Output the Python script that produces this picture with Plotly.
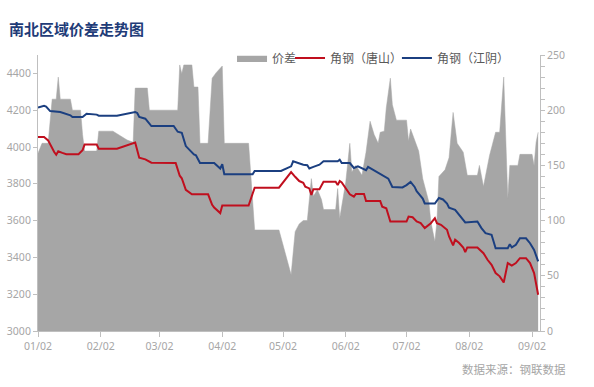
import plotly.graph_objects as go

# 价差 (right axis)
spread_dates = ["2024-01-02","2024-01-04","2024-01-07","2024-01-09","2024-01-11","2024-01-12","2024-01-13","2024-01-18",
"2024-01-19","2024-01-23","2024-01-24","2024-01-25","2024-01-31","2024-02-01","2024-02-08","2024-02-15","2024-02-18",
"2024-02-19","2024-02-25","2024-02-26","2024-03-11","2024-03-12","2024-03-13","2024-03-14","2024-03-18","2024-03-19",
"2024-03-21","2024-03-22","2024-03-26","2024-03-28","2024-03-30","2024-04-02","2024-04-03","2024-04-15","2024-04-18",
"2024-04-30","2024-05-06","2024-05-08","2024-05-10","2024-05-12","2024-05-14","2024-05-15","2024-05-16","2024-05-17",
"2024-05-19","2024-05-21","2024-05-22","2024-05-28","2024-05-29","2024-05-30","2024-06-02","2024-06-04","2024-06-05",
"2024-06-07","2024-06-10","2024-06-12","2024-06-14","2024-06-16","2024-06-18","2024-06-19","2024-06-21","2024-06-22",
"2024-06-24","2024-06-25","2024-06-27","2024-07-02","2024-07-03","2024-07-04","2024-07-06","2024-07-08","2024-07-10",
"2024-07-13","2024-07-14","2024-07-16","2024-07-17","2024-07-18","2024-07-21","2024-07-23","2024-07-25","2024-07-27",
"2024-07-30","2024-08-01","2024-08-06","2024-08-07","2024-08-09","2024-08-12","2024-08-15","2024-08-17","2024-08-19",
"2024-08-20","2024-08-21","2024-08-22","2024-08-26","2024-08-27","2024-09-02","2024-09-03","2024-09-04","2024-09-05"]
spread_vals = [161,170,170,210,210,230,210,210,
200,200,178,163,163,181,181,173,171,
220,220,200,200,241,233,241,241,221,
221,170,170,229,234,240,170,170,91.5,
91.5,51,90,97,100,100,117,138,122,
128,119,110,110,129,102,135,170,144,
150,141,162,190,178,170,180,181,202,
229,205,191,191,172,183,172,163,138,
117,99,81,99,140,146,157,198,170,
162,141,141,150,131,159,180,180,230,
175,120,150,150,160,160,150,171,180]

# 角钢（唐山）
ts_dates = ["2024-01-02","2024-01-05","2024-01-07","2024-01-09","2024-01-10","2024-01-11","2024-01-12","2024-01-14",
"2024-01-16","2024-01-22","2024-01-24","2024-01-25","2024-01-31","2024-02-01","2024-02-10","2024-02-19","2024-02-21",
"2024-02-24","2024-02-27","2024-03-10","2024-03-11","2024-03-12","2024-03-13","2024-03-15","2024-03-18","2024-03-26",
"2024-03-28","2024-03-29","2024-04-01","2024-04-02","2024-04-15","2024-04-18","2024-04-30","2024-05-06","2024-05-08",
"2024-05-10","2024-05-12","2024-05-13","2024-05-15","2024-05-16","2024-05-17","2024-05-20","2024-05-22","2024-05-28",
"2024-05-29","2024-05-30","2024-05-31","2024-06-02","2024-06-04","2024-06-06","2024-06-07","2024-06-11","2024-06-12",
"2024-06-19","2024-06-20","2024-06-22","2024-06-24","2024-07-02","2024-07-03","2024-07-05","2024-07-07","2024-07-09",
"2024-07-11","2024-07-14","2024-07-16","2024-07-17","2024-07-19","2024-07-22","2024-07-23","2024-07-25","2024-07-26",
"2024-07-28","2024-07-30","2024-07-31","2024-08-01","2024-08-06","2024-08-09","2024-08-11","2024-08-13","2024-08-15",
"2024-08-17","2024-08-19","2024-08-21","2024-08-23","2024-08-25","2024-08-27","2024-08-30","2024-09-01","2024-09-03",
"2024-09-05"]
ts_vals = [4054,4054,4036,3991,3973,3958,3977,3968,
3961,3961,3982,4013,4013,3991,3991,4024,3942,
3933,3915,3913,3875,3844,3830,3767,3743,3743,
3686,3671,3641,3682,3682,3779,3779,3864,3838,
3815,3806,3784,3775,3739,3771,3771,3811,3811,
3793,3815,3807,3775,3743,3730,3745,3745,3707,
3707,3676,3667,3595,3595,3622,3618,3595,3586,
3559,3586,3613,3586,3577,3550,3514,3465,3496,
3478,3454,3429,3454,3454,3423,3387,3360,3315,
3297,3264,3369,3356,3369,3396,3396,3369,3315,
3197]

# 角钢（江阴）
jy_dates = ["2024-01-02","2024-01-05","2024-01-06","2024-01-08","2024-01-13","2024-01-18","2024-01-19","2024-01-24",
"2024-01-26","2024-01-31","2024-02-01","2024-02-10","2024-02-19","2024-02-20","2024-02-21","2024-02-24","2024-02-27",
"2024-03-09","2024-03-11","2024-03-13","2024-03-15","2024-03-17","2024-03-19","2024-03-20","2024-03-22","2024-03-29",
"2024-03-31","2024-04-01","2024-04-02","2024-04-03","2024-04-17","2024-04-18","2024-05-01","2024-05-04","2024-05-06",
"2024-05-07","2024-05-10","2024-05-12","2024-05-14","2024-05-15","2024-05-17","2024-05-20","2024-05-22","2024-05-29",
"2024-05-30","2024-05-31","2024-06-04","2024-06-06","2024-06-08","2024-06-10","2024-06-12","2024-06-13","2024-06-16",
"2024-06-18","2024-06-21","2024-06-23","2024-06-25","2024-06-30","2024-07-02","2024-07-04","2024-07-06","2024-07-07",
"2024-07-08","2024-07-10","2024-07-11","2024-07-16","2024-07-18","2024-07-20","2024-07-22","2024-07-23","2024-07-26",
"2024-07-28","2024-07-31","2024-08-06","2024-08-08","2024-08-10","2024-08-13","2024-08-15","2024-08-21","2024-08-22",
"2024-08-23","2024-08-25","2024-08-27","2024-08-30","2024-09-01","2024-09-03","2024-09-05"]
jy_vals = [4214,4224,4220,4195,4190,4172,4163,4163,
4181,4176,4170,4170,4190,4185,4163,4154,4114,
4114,4083,4077,4005,3982,3960,3955,3913,3913,
3892,3883,3906,3852,3852,3870,3870,3885,3895,
3922,3910,3904,3901,3883,3892,3904,3922,3922,
3931,3913,3913,3886,3895,3883,3874,3892,3874,
3861,3843,3828,3783,3780,3793,3810,3783,3760,
3747,3720,3693,3693,3723,3715,3693,3670,3658,
3631,3590,3595,3559,3532,3523,3450,3450,3472,
3454,3468,3504,3504,3477,3441,3378]

tick_dates = ["2024-01-02","2024-02-02","2024-03-02","2024-04-02","2024-05-02",
              "2024-06-02","2024-07-02","2024-08-02","2024-09-02"]
tick_text = ["01/02","02/02","03/02","04/02","05/02","06/02","07/02","08/02","09/02"]

names = ["价差", "角钢（唐山）", "角钢（江阴）"]

fig = go.Figure()
fig.add_trace(go.Scatter(x=spread_dates, y=spread_vals, name=names[0], yaxis="y",
                         mode="lines", fill="tozeroy", fillcolor="#a6a6a6",
                         line=dict(color="#a6a6a6", width=0.5), legend="legend"))
fig.add_trace(go.Scatter(x=ts_dates, y=ts_vals, name=names[1], mode="lines", yaxis="y2",
                         line=dict(color="#c00f1e", width=2), legend="legend2"))
fig.add_trace(go.Scatter(x=jy_dates, y=jy_vals, name=names[2], mode="lines", yaxis="y2",
                         line=dict(color="#1b3f80", width=2), legend="legend3"))

axis_col = "#bfbfbf"
tick_font = dict(family="Noto Sans, DejaVu Sans", size=10.5, color="#a6a6a6")
leg_common = dict(orientation="h", xanchor="left", y=0.989, yanchor="middle",
                  bgcolor="rgba(0,0,0,0)", itemwidth=30,
                  font=dict(size=12, color="#595959", family="Noto Sans CJK SC"))

fig.update_layout(
    width=594, height=387,
    margin=dict(l=38, r=54, t=55, b=56, autoexpand=False),
    paper_bgcolor="white", plot_bgcolor="white",
    font=dict(family="Noto Sans CJK SC, Noto Sans", color="#595959"),
    title=dict(text="<b>南北区域价差走势图</b>", x=0.015, xanchor="left", xref="container",
               y=0.922, yanchor="middle", yref="container",
               font=dict(family="Noto Sans CJK SC", size=15, color="#1f3c78")),
    showlegend=True,
    legend=dict(x=0.3865, **leg_common),
    legend2=dict(x=0.502, **leg_common),
    legend3=dict(x=0.715, **leg_common),
    xaxis=dict(type="date", range=["2024-01-02", "2024-09-05 22:00"],
               tickvals=tick_dates, ticktext=tick_text, tickfont=tick_font,
               showgrid=False, zeroline=False, showline=True, linecolor=axis_col,
               linewidth=1, ticks="outside", ticklen=5, tickcolor=axis_col, automargin=False),
    yaxis=dict(range=[0, 250], dtick=50, side="right",
               tickfont=tick_font, showgrid=False, zeroline=False, showline=True,
               linecolor=axis_col, linewidth=1, ticks="outside", ticklen=4,
               tickcolor=axis_col, automargin=False,
               minor=dict(dtick=10, ticks="outside", ticklen=4, tickcolor=axis_col)),
    yaxis2=dict(range=[3000, 4500], tickvals=[3000,3200,3400,3600,3800,4000,4200,4400],
                overlaying="y", side="left",
                tickfont=tick_font, showgrid=False, zeroline=False, showline=True,
                linecolor=axis_col, linewidth=1, ticks="outside", ticklen=4,
                tickcolor=axis_col, automargin=False),
)

fig.add_annotation(text="数据来源：钢联数据", xref="paper", yref="paper",
                   x=1.056, y=-0.138, xanchor="right", yanchor="middle", showarrow=False,
                   font=dict(family="Noto Sans CJK SC", size=11.5, color="#a6a6a6"))

fig.write_html("out.html", config={"displayModeBar": False},
               post_script="document.body.style.margin='0';")
